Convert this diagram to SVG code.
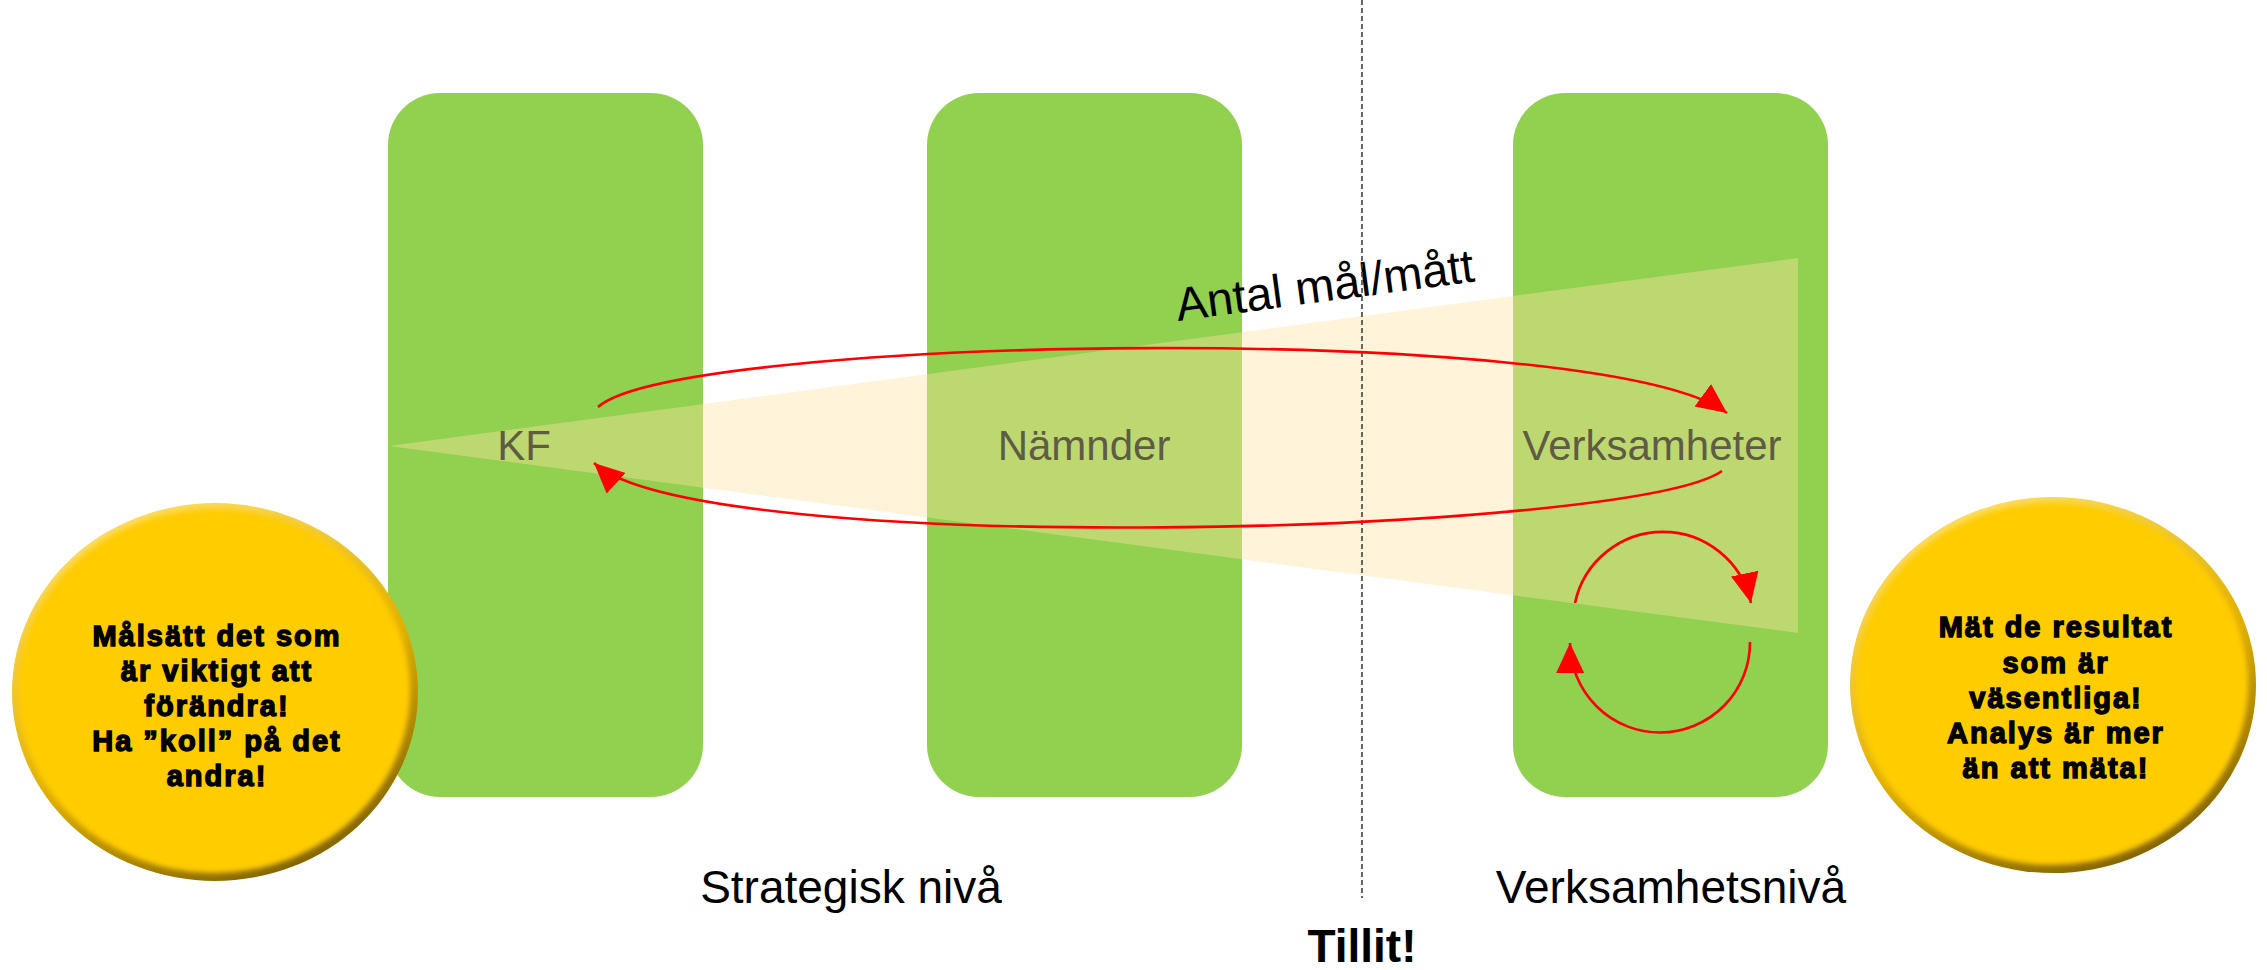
<svg xmlns="http://www.w3.org/2000/svg" width="2267" height="970" viewBox="0 0 2267 970">
<style>
.box{fill:#92D050}
.lbl{font-family:"Liberation Sans",Arial,sans-serif;font-size:42px;fill:#5F5B45;text-anchor:middle}
.lvl{font-family:"Liberation Sans",Arial,sans-serif;font-size:46px;fill:#000;text-anchor:middle}
.bub{font-family:"Liberation Sans",Arial,sans-serif;font-size:29px;font-weight:bold;fill:#000;stroke:#000;stroke-width:1.4;letter-spacing:2px;text-anchor:middle}
.arr{fill:none;stroke:#FF0000;stroke-width:2.6}
</style>
<defs>
<marker id="ah" markerUnits="userSpaceOnUse" markerWidth="32" markerHeight="30" refX="30" refY="14" orient="auto">
<path d="M0,0 L30,14 L0,28 Z" fill="#FF0000"/>
</marker>
<linearGradient id="bev" x1="0.25" y1="0" x2="0.75" y2="1">
<stop offset="0" stop-color="#FFE066"/>
<stop offset="0.55" stop-color="#E0B000"/>
<stop offset="1" stop-color="#7A5C00"/>
</linearGradient>
<filter id="blur" x="-10%" y="-10%" width="120%" height="120%"><feGaussianBlur stdDeviation="2.5"/></filter>
</defs>

<g id="node-kf">
<rect class="box" x="388" y="93" width="315" height="704" rx="52" ry="52"/>
</g>
<g id="node-namnder">
<rect class="box" x="927" y="93" width="315" height="704" rx="52" ry="52"/>
</g>
<g id="node-verksamheter">
<rect class="box" x="1513" y="93" width="315" height="704" rx="52" ry="52"/>
</g>

<g id="triangle">
<polygon points="389,446 1798,258 1798,633" fill="#FFE3A2" fill-opacity="0.4"/>
</g>

<g id="labels">
<text class="lbl" x="524" y="460">KF</text>
<text class="lbl" x="1084" y="460">Nämnder</text>
<text class="lbl" x="1652" y="460">Verksamheter</text>
<text x="1178" y="321" transform="rotate(-7.6 1178 321)" font-family="Liberation Sans, Arial, sans-serif" font-size="47" fill="#000">Antal mål/mått</text>
<text class="lvl" x="851" y="903">Strategisk nivå</text>
<text class="lvl" x="1671" y="903">Verksamhetsnivå</text>
<text x="1362" y="962" font-family="Liberation Sans, Arial, sans-serif" font-size="46" font-weight="bold" text-anchor="middle" fill="#000">Tillit!</text>
</g>

<g id="divider">
<line x1="1362" y1="0" x2="1362" y2="898" stroke="#404040" stroke-width="1.6" stroke-dasharray="5 3"/>
</g>

<g id="connectors">
<path class="arr" d="M598,407 C680,335 1600,320 1727,413" marker-end="url(#ah)"/>
<path class="arr" d="M1722,471 C1630,535 700,560 594,463" marker-end="url(#ah)"/>
<path class="arr" d="M1575,603 A90,90 0 0 1 1751,603" marker-end="url(#ah)"/>
<path class="arr" d="M1750,642 A90,90 0 0 1 1570,643" marker-end="url(#ah)"/>
</g>

<g id="node-bubble-left">
<ellipse cx="215" cy="692" rx="203" ry="189" fill="url(#bev)"/>
<ellipse cx="214" cy="691" rx="196" ry="182" fill="#FFCC00" filter="url(#blur)"/>
<text class="bub" x="217" y="646">Målsätt det som</text>
<text class="bub" x="217" y="681">är viktigt att</text>
<text class="bub" x="217" y="716">förändra!</text>
<text class="bub" x="217" y="751">Ha ”koll” på det</text>
<text class="bub" x="217" y="786">andra!</text>
</g>

<g id="node-bubble-right">
<ellipse cx="2053" cy="685" rx="203" ry="188" fill="url(#bev)"/>
<ellipse cx="2052" cy="684" rx="196" ry="181" fill="#FFCC00" filter="url(#blur)"/>
<text class="bub" x="2056" y="637">Mät de resultat</text>
<text class="bub" x="2056" y="673">som är</text>
<text class="bub" x="2056" y="708">väsentliga!</text>
<text class="bub" x="2056" y="743">Analys är mer</text>
<text class="bub" x="2056" y="778">än att mäta!</text>
</g>
</svg>
